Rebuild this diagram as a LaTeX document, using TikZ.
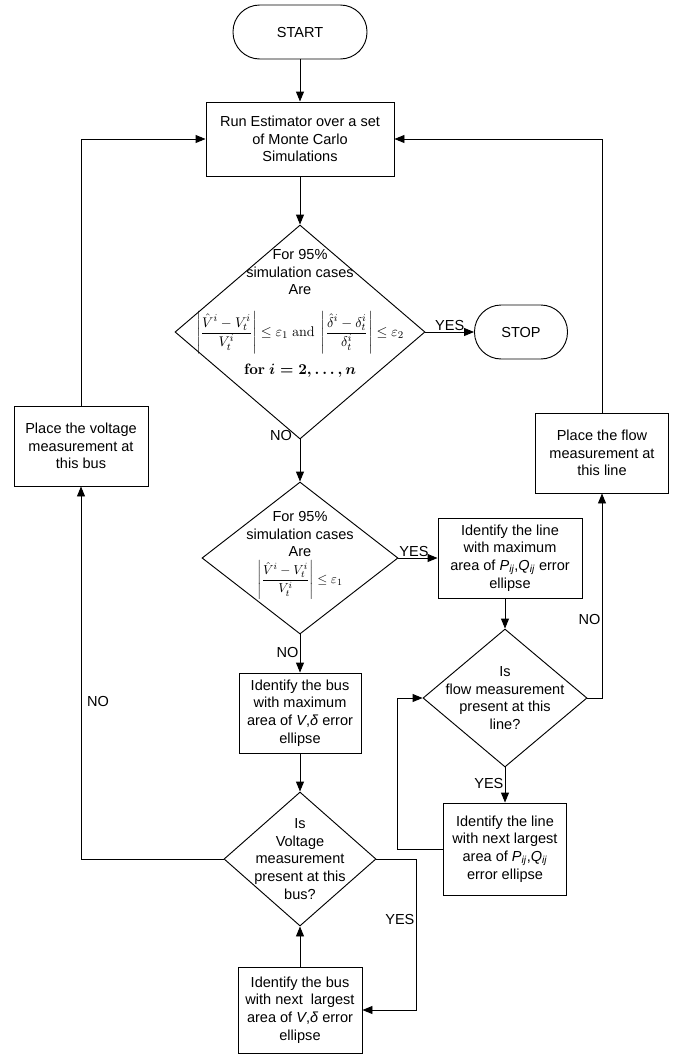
\documentclass[tikz,border=0pt]{standalone}
\usepackage[no-math]{fontspec}
\setmainfont{Liberation Sans}
\usepackage{amsmath}
\usepackage{graphicx}
\usetikzlibrary{arrows.meta,shapes.geometric}
\begin{document}
\begin{tikzpicture}[x=0.75pt,y=-0.75pt,
  every node/.style={font=\fontsize{10.9}{13.3}\selectfont},
  box/.style={draw,rectangle,line width=0.7pt,align=center,inner sep=2pt},
  term/.style={draw,rectangle,rounded corners=20pt,line width=0.7pt},
  dec/.style={draw,diamond,line width=0.7pt,inner sep=0pt},
  txt/.style={align=center,inner sep=0pt},
  arr/.style={line width=0.7pt,-{Triangle[length=7.5pt,width=6pt]}},
  lbl/.style={inner sep=1pt}]
\useasboundingbox (0,0) rectangle (678,1057);

% main column
\node[term,minimum width=100.5pt,minimum height=40.5pt] (start) at (300,32) {START};
\node[box,minimum width=141pt,minimum height=55.5pt] (run) at (300,139) {Run Estimator over a set\\of Monte Carlo\\Simulations};

\node[dec,minimum width=187.5pt,minimum height=160.5pt] (d1) at (300,332) {};
\node[txt] (d1t) at (300,272) {For 95\%\\simulation cases\\Are};
\node[txt] (d1f) at (300,333) {\resizebox{156pt}{!}{$\left|\dfrac{\hat{V}^i - V_t^i}{V_t^i}\right| \le \varepsilon_1 \ \mathrm{and}\ \left|\dfrac{\hat{\delta}^i - \delta_t^i}{\delta_t^i}\right| \le \varepsilon_2$}};
\node[txt] (d1i) at (300,371) {\resizebox{84pt}{!}{\boldmath$\mathbf{for}\ i = 2, \ldots, n$}};

\node[term,minimum width=69.75pt,minimum height=40.5pt] (stop) at (521,332) {STOP};

\node[dec,minimum width=147pt,minimum height=114pt] (d2) at (300,558) {};
\node[txt] (d2t) at (300,534) {For 95\%\\simulation cases\\Are};
\node[txt] (d2f) at (300,580) {\resizebox{64pt}{!}{$\left|\dfrac{\hat{V}^i - V_t^i}{V_t^i}\right| \le \varepsilon_1$}};

\node[box,minimum width=91.5pt,minimum height=60pt] (bmax) at (300,713) {Identify the bus\\with maximum\\area of \textit{V},\textit{δ} error\\ellipse};

\node[dec,minimum width=114pt,minimum height=100.5pt] (d4) at (300,859) {};
\node[txt] (d4t) at (300,859) {Is\\Voltage\\measurement\\present at this\\bus?};

\node[box,minimum width=93pt,minimum height=64.5pt] (bnext) at (300,1010) {Identify the bus\\with next\ \ largest\\area of \textit{V},\textit{δ} error\\ellipse};

% left
\node[box,minimum width=100.5pt,minimum height=60pt] (pvolt) at (81,446) {Place the voltage\\measurement at\\this bus};

% right
\node[box,minimum width=108pt,minimum height=60pt] (lmax) at (510,558) {Identify the line\\with maximum\\area of \textit{P\textsubscript{ij}},\textit{Q\textsubscript{ij}} error\\ellipse};
\node[box,minimum width=100pt,minimum height=60pt] (pflow) at (602,453) {Place the flow\\measurement at\\this line};

\node[dec,minimum width=123pt,minimum height=103.5pt] (d3) at (505,698) {};
\node[txt] (d3t) at (505,698) {Is\\flow measurement\\present at this\\line?};

\node[box,minimum width=92pt,minimum height=69pt] (lnext) at (505,849) {Identify the line\\with next largest\\area of \textit{P\textsubscript{ij}},\textit{Q\textsubscript{ij}}\\error ellipse};

% connectors
\draw[arr] (start) -- (run);
\draw[arr] (run) -- (d1.north);
\draw[arr] (d1.east) -- (stop.west) node[lbl,midway,above] (yes1) {YES};
\draw[arr] (d1.south) -- (d2.north);
\node[lbl] (no1) at (281,435) {NO};
\draw[arr] (d2.east) -- (lmax.west) node[lbl,midway,above,xshift=-3pt] (yes2) {YES};
\draw[arr] (d2.south) -- (bmax.north);
\node[lbl,anchor=east] (no2) at (300,652) {NO};
\draw[arr] (bmax) -- (d4.north);
\draw[arr] (bnext) -- (d4.south);
\coordinate (yr) at (416,859);
\draw[arr] (d4.east) -- (yr) |- (bnext.east);
\node[lbl,anchor=east] (yes4) at (416,919) {YES};
\draw[arr] (d4.west) -| (pvolt.south);
\node[lbl] (no4) at (98,701) {NO};
\draw[arr] (pvolt.north) |- (run.west);
\draw[arr] (lmax.south -| d3.north) -- (d3.north);
\draw[arr] (d3.east) -| (pflow.south);
\node[lbl,anchor=east] (no3) at (602,619) {NO};
\draw[arr] (pflow.north) |- (run.east);
\draw[arr] (d3.south) -- (lnext.north);
\node[lbl,anchor=east] (yes3) at (505,783) {YES};
\coordinate (ll) at (397,849);
\draw[arr] (lnext.west) -- (ll) |- (d3.west);
\end{tikzpicture}
\end{document}
